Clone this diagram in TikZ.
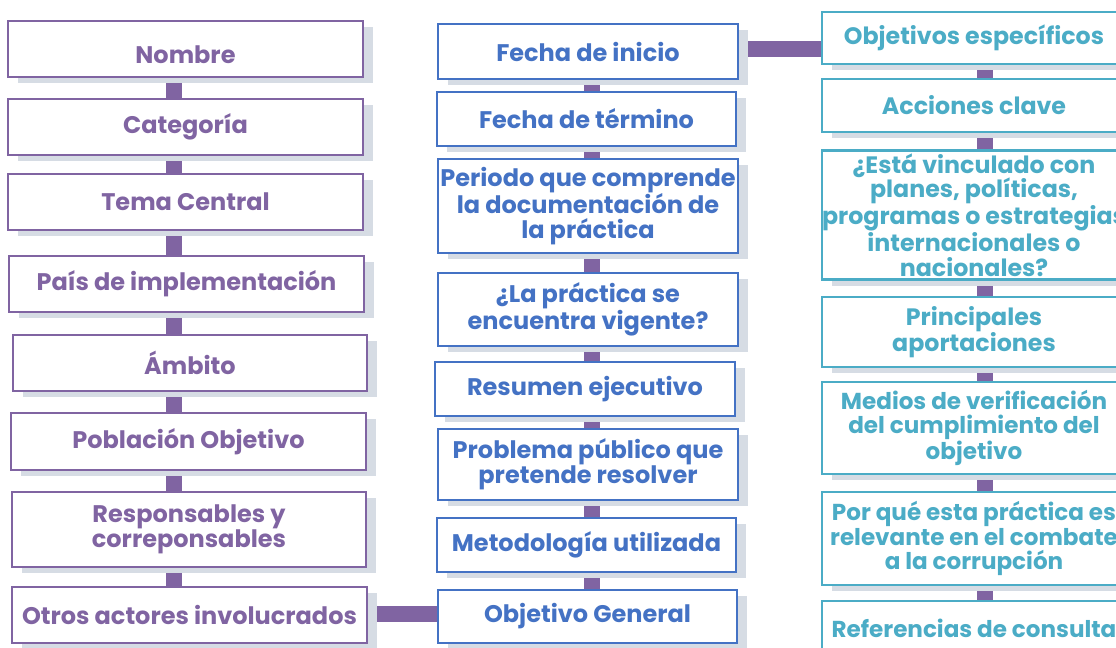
\documentclass[tikz,border=0pt]{standalone}
\usepackage{fontspec}
\setmainfont{Poppins}
\usetikzlibrary{shadows,backgrounds,calc}
\definecolor{cpurple}{HTML}{8064A2}
\definecolor{cblue}{HTML}{4472C4}
\definecolor{cteal}{HTML}{4BACC6}
\definecolor{cshadow}{HTML}{D6DCE4}
\tikzset{
  box/.style={draw, fill=white, line width=1.9pt, inner sep=0pt, align=center,
    font=\bfseries\fontsize{18}{18.75}\selectfont,
    drop shadow={shadow xshift=7.5pt, shadow yshift=-4.5pt, fill=cshadow, opacity=1}},
  pbox/.style={box, draw=cpurple, text=cpurple},
  bbox/.style={box, draw=cblue, text=cblue},
  tbox/.style={box, draw=cteal, text=cteal, font=\bfseries\fontsize{17.8}{18.4}\selectfont},
  small/.style={font=\bfseries\fontsize{17.3}{18.4}\selectfont},
  conn/.style={draw=cpurple, line width=12pt},
  sz/.style 2 args={minimum width=#1*0.75pt, minimum height=#2*0.75pt}
}
\begin{document}
\begin{tikzpicture}[x=0.75pt, y=-0.75pt]
\useasboundingbox (0,0) rectangle (1116,647);
\clip (0,0) rectangle (1116,647);
% column 1
\node[pbox, sz={355}{56}] (n1) at (185.5,49) {\raisebox{-4.5pt}[\height][\depth]{Nombre}};
\node[pbox, sz={355}{56}] (n2) at (185.5,127) {Categoría};
\node[pbox, sz={355}{56}] (n3) at (185.5,202) {Tema Central};
\node[pbox, sz={355}{56}] (n4) at (186.5,284) {País de implementación};
\node[pbox, sz={354}{56}] (n5) at (190,363) {Ámbito};
\node[pbox, sz={355}{57}] (n6) at (188.5,441.5) {Población Objetivo};
\node[pbox, sz={354}{75}] (n7) at (189,529.5) {Responsables y\\correponsables};
\node[pbox, sz={355}{56}] (n8) at (189.5,615) {Otros actores involucrados};
% column 2
\node[bbox, sz={300}{55}] (m1) at (588,51.5) {Fecha de inicio};
\node[bbox, sz={299}{54}] (m2) at (586.5,119) {Fecha de término};
\node[bbox, sz={300}{94}] (m3) at (588,206) {Periodo que comprende\\la documentación de\\la práctica};
\node[bbox, sz={300}{73}] (m4) at (588,309.5) {¿La práctica se\\encuentra vigente?};
\node[bbox, sz={300}{54}] (m5) at (585,389) {Resumen ejecutivo};
\node[bbox, sz={300}{71}] (m6) at (588,464.5) {Problema público que\\pretende resolver};
\node[bbox, sz={299}{54}] (m7) at (586.5,545) {Metodología utilizada};
\node[bbox, sz={299}{53}] (m8) at (587.5,616.5) {Objetivo General};
% column 3
\node[tbox, sz={304}{52}] (r1) at (974,38) {Objetivos específicos};
\node[tbox, sz={304}{53}] (r2) at (974,105.5) {Acciones clave};
\node[tbox, sz={304}{129}] (r3) at (974,215) {¿Está vinculado con\\planes, políticas,\\\makebox[0pt]{programas o estrategias}\\internacionales o\\nacionales?};
\node[tbox, sz={304}{70}] (r4) at (974,332) {Principales\\aportaciones};
\node[tbox, small, sz={304}{92}] (r5) at (974,428) {Medios de verificación\\del cumplimiento del\\objetivo};
\node[tbox, small, sz={304}{93}] (r6) at (974,538.5) {Por qué esta práctica es\\relevante en el combate\\a la corrupción};
\node[tbox, small, sz={304}{54}] (r7) at (974,628) {Referencias de consulta};
% connector guide coordinates
\coordinate (c1) at (174,0);
\coordinate (c2) at (592,0);
\coordinate (c3) at (985,0);
\coordinate (h1) at (0,49);
\coordinate (h2) at (0,614);
\begin{pgfonlayer}{background}
\foreach \a/\b in {n1/n2,n2/n3,n3/n4,n4/n5,n5/n6,n6/n7,n7/n8}
  \draw[conn] (\a.south -| c1) -- (\b.north -| c1);
\foreach \a/\b in {m1/m2,m2/m3,m3/m4,m4/m5,m5/m6,m6/m7,m7/m8}
  \draw[conn] (\a.south -| c2) -- (\b.north -| c2);
\foreach \a/\b in {r1/r2,r2/r3,r3/r4,r4/r5,r5/r6,r6/r7}
  \draw[conn] (\a.south -| c3) -- (\b.north -| c3);
\draw[conn] (n8.east |- h2) -- (m8.west |- h2);
\draw[conn] (m1.east |- h1) -- (r1.west |- h1);
\end{pgfonlayer}
\end{tikzpicture}
\end{document}
